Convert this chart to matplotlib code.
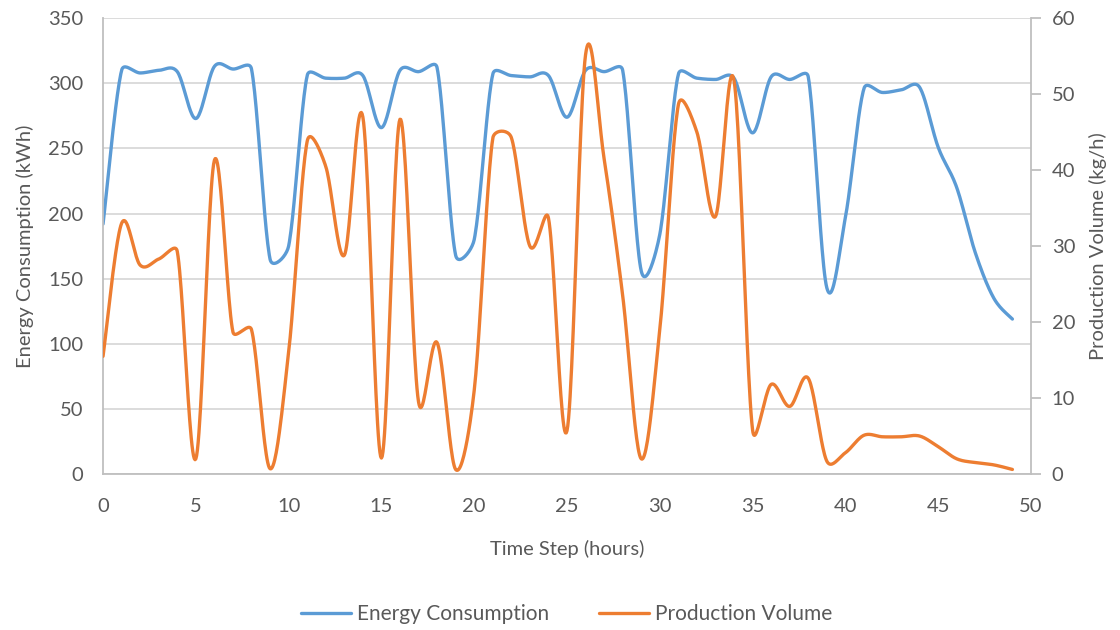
import numpy as np
import matplotlib.pyplot as plt

plt.rcParams['font.family'] = ['Lato', 'DejaVu Sans']

time_step = list(range(50))

energy = [192, 310, 308, 310, 309, 273, 313, 311, 311, 165,
          175, 306, 304, 304, 306, 266, 310, 309, 312, 168,
          180, 307, 306, 305, 306, 274, 310, 309, 310, 156,
          184, 307, 304, 303, 304, 262, 305, 303, 305, 143,
          197, 296, 293, 295, 297, 251, 220, 170, 135, 119]

production = [15.5, 33.0, 27.5, 28.3, 29.3, 2.0, 41.3, 18.7, 19.0, 0.7,
              16.0, 43.8, 40.5, 28.8, 47.0, 2.1, 46.7, 9.5, 17.3, 0.6,
              11.0, 44.2, 44.3, 30.0, 33.7, 5.7, 55.2, 41.5, 23.5, 2.0,
              19.0, 48.6, 45.0, 33.9, 51.8, 5.8, 11.8, 8.9, 12.6, 1.7,
              2.8, 5.1, 4.9, 4.9, 5.0, 3.6, 2.0, 1.5, 1.2, 0.6]

blue = '#5b9bd5'
orange = '#ed7d31'
grey = '#595959'
axis_grey = '#bfbfbf'


def smooth(x, y, sx, sy, n=24):
    # excel style smoothed line, worked out in screen pixels
    p = np.column_stack([np.asarray(x, float) * sx, np.asarray(y, float) * sy])
    p = np.vstack([p[:1], p, p[-1:]])
    t = np.linspace(0, 1, n, endpoint=False)[:, None]
    pts = []
    for i in range(1, len(p) - 2):
        p0, p1, p2, p3 = p[i - 1], p[i], p[i + 1], p[i + 2]
        d02 = np.hypot(*(p2 - p0))
        d12 = np.hypot(*(p2 - p1))
        d13 = np.hypot(*(p3 - p1))
        f0 = 1 / 6
        f3 = 1 / 6
        if d02 / 6 >= d12 / 2 and d02 > 0:
            f0 = d12 / d02 / 2
        if d13 / 6 >= d12 / 2 and d13 > 0:
            f3 = d12 / d13 / 2
        c1 = p1 + f0 * (p2 - p0)
        c2 = p2 - f3 * (p3 - p1)
        b = ((1 - t) ** 3) * p1 + 3 * ((1 - t) ** 2) * t * c1 \
            + 3 * (1 - t) * t ** 2 * c2 + t ** 3 * p2
        pts.append(b)
    pts.append(p[-1:])
    pts = np.vstack(pts)
    return pts[:, 0] / sx, pts[:, 1] / sy


fig, ax = plt.subplots(figsize=(11.2, 6.3), dpi=100)
fig.subplots_adjust(left=0.092, right=0.9205, top=0.971, bottom=0.2476)
ax2 = ax.twinx()

px_w = 0.8285 * 1120 / 50
px_h = 0.7234 * 630

ex, ey = smooth(time_step, energy, px_w, px_h / 350)
l1, = ax.plot(ex, ey, color=blue, lw=2.4, solid_capstyle='round', label='Energy Consumption')
qx, qy = smooth(time_step, production, px_w, px_h / 60)
l2, = ax2.plot(qx, qy, color=orange, lw=2.4, solid_capstyle='round', label='Production Volume')

ax.set_xlim(0, 50)
ax.set_ylim(0, 350)
ax2.set_ylim(0, 60)
ax.set_xticks(range(0, 51, 5))
ax.set_yticks(range(0, 351, 50))
ax2.set_yticks(range(0, 61, 10))

ax.grid(axis='y', color='#d9d9d9', lw=1.3)
ax.set_axisbelow(True)

for a in (ax, ax2):
    for s in a.spines.values():
        s.set_color(axis_grey)
        s.set_linewidth(1.3)
    a.spines['top'].set_visible(False)
ax.spines['right'].set_visible(False)
ax2.spines['left'].set_visible(False)
ax2.spines['bottom'].set_visible(False)

ax.tick_params(axis='x', length=0, labelsize=14.5, labelcolor=grey, pad=17)
ax.tick_params(axis='y', length=0, labelsize=14.5, labelcolor=grey, pad=14)
ax2.tick_params(axis='y', length=7, width=1.3, color=axis_grey, labelsize=14.5, labelcolor=grey, pad=8)

ax.set_xlabel('Time Step (hours)', fontsize=14.5, color=grey, labelpad=18)
ax.set_ylabel('Energy Consumption (kWh)', fontsize=14.5, color=grey, labelpad=10)
ax2.set_ylabel('Production Volume (kg/h)', fontsize=14.5, color=grey, labelpad=10)

fig.legend(handles=[l1, l2], loc='center', bbox_to_anchor=(0.506, 0.025), ncol=2,
           frameon=False, fontsize=15, labelcolor=grey, handlelength=2.4,
           columnspacing=2.4, handletextpad=0.3)

fig.savefig('out.png', dpi=100)
